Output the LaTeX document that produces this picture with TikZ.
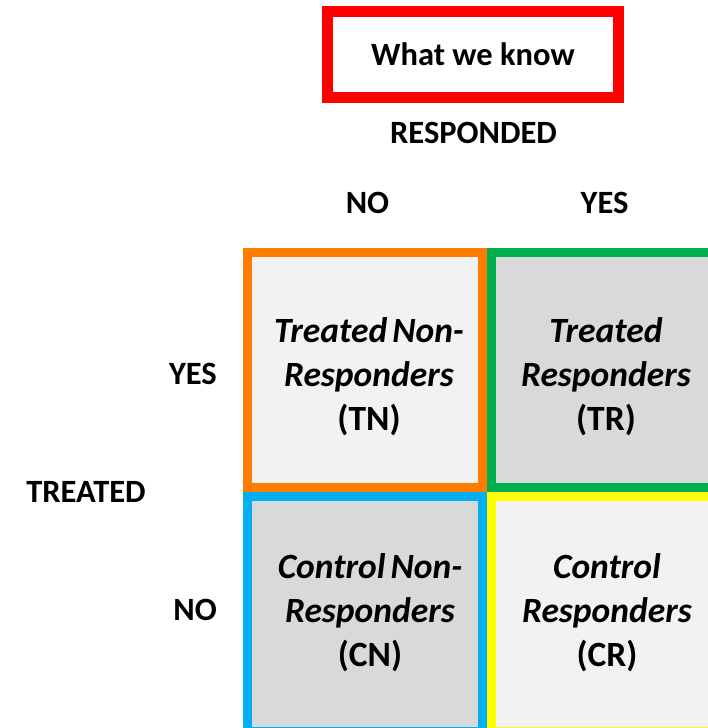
\documentclass[tikz,border=0pt]{standalone}
\usepackage{fontspec}
\setmainfont{Carlito}
\definecolor{boxred}{HTML}{FF0000}
\definecolor{boxorange}{HTML}{FF7C00}
\definecolor{boxgreen}{HTML}{00B050}
\definecolor{boxblue}{HTML}{00B0F0}
\definecolor{boxyellow}{HTML}{FFFF00}
\definecolor{celllight}{HTML}{F2F2F2}
\definecolor{celldark}{HTML}{D9D9D9}
\newcommand{\cellname}[2]{\textit{#1}\\\textit{#2}}
\newcommand{\tightsp}{\kern5pt}
\begin{document}
\begin{tikzpicture}[x=1pt,y=-1pt,
  cellbox/.style={rectangle, draw, line width=9pt, inner sep=0pt,
    minimum width=234.5pt, minimum height=235pt},
  celltext/.style={anchor=base, align=center, text width=232pt, inner sep=0pt,
    font=\fontsize{35.5}{44}\selectfont\bfseries},
  axislabel/.style={anchor=base, inner sep=0pt, font=\fontsize{32.5}{38}\selectfont\bfseries},
  titlebox/.style={rectangle, draw=boxred, line width=11pt, fill=white, inner sep=0pt,
    minimum width=291pt, minimum height=86pt, font=\fontsize{32.5}{40}\selectfont\bfseries}]
  \useasboundingbox (0,0) rectangle (707,728);

  % heading box
  \node[titlebox] (title) at (473,54.5) {What we know};

  % axis headings
  \node[axislabel] (resp) at (473.5,143) {RESPONDED};
  \node[axislabel] (rno) at (367.5,213) {NO};
  \node[axislabel] (ryes) at (604.5,213) {YES};
  \node[axislabel, anchor=base east] (tyes) at (217,384) {YES};
  \node[axislabel] (treated) at (86,502) {TREATED};
  \node[axislabel, anchor=base east] (tno) at (217,620) {NO};

  % the four outcome cells
  \node[cellbox, draw=boxorange, fill=celllight] (tn) at (364.75,370) {};
  \node[cellbox, draw=boxgreen, fill=celldark] (tr) at (608.25,370) {};
  \node[cellbox, draw=boxblue, fill=celldark] (cn) at (364.75,614) {};
  \node[cellbox, draw=boxyellow, fill=celllight] (cr) at (608.25,614) {};

  \node[celltext] (tntext) at (369,342) {\cellname{Treated\tightsp Non-}{Responders}\\(TN)};
  \node[celltext] (trtext) at (606,342) {\cellname{Treated}{Responders}\\(TR)};
  \node[celltext] (cntext) at (370,578) {\cellname{Control\tightsp Non-}{Responders}\\(CN)};
  \node[celltext] (crtext) at (607,578) {\cellname{Control}{Responders}\\(CR)};
\end{tikzpicture}
\end{document}
